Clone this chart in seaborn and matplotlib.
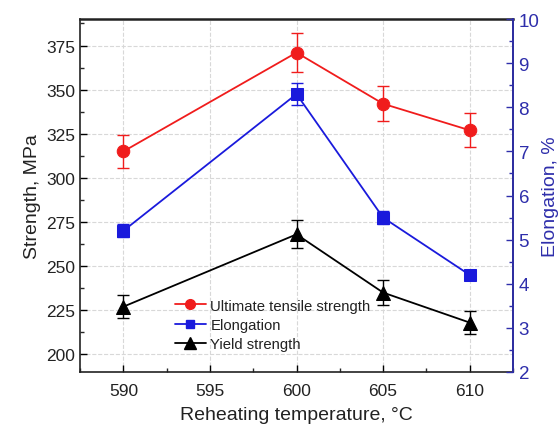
import numpy as np
import pandas as pd
import matplotlib
matplotlib.use("Agg")
import matplotlib.pyplot as plt
from matplotlib.lines import Line2D
from matplotlib.ticker import MultipleLocator
import seaborn as sns

# Data
temps = [590, 600, 605, 610]
uts = [315, 371, 342, 327]
uts_err = [9.5, 11, 10, 9.5]
elong = [5.2, 8.3, 5.5, 4.2]
elong_err = [0.15, 0.25, 0.15, 0.1]
ys = [227, 268, 235, 218]
ys_err = [6.5, 8, 7, 6.5]

labels = ["Ultimate tensile strength", "Elongation", "Yield strength"]

sns.set_theme(style="white")
plt.rcParams["font.family"] = ["Liberation Sans", "DejaVu Sans"]

RED = "#f01c1c"
BLUE = "#1a1adc"
AXBLUE = "#2e2eab"

fig = plt.figure(figsize=(5.6, 4.27), dpi=100)
ax = fig.add_axes([0.143, 0.1265, 0.773, 0.8265])
ax2 = ax.twinx()

df = pd.DataFrame({"temp": temps, "uts": uts, "ys": ys, "elong": elong})

# left axis: strengths
sns.lineplot(data=df, x="temp", y="uts", ax=ax, color=RED, marker="o",
             markersize=9, markeredgecolor=RED, linewidth=1.3)
ax.errorbar(temps, uts, yerr=uts_err, fmt="none", ecolor=RED, capsize=4, elinewidth=1)
sns.lineplot(data=df, x="temp", y="ys", ax=ax, color="black", marker="^",
             markersize=10, markeredgecolor="black", linewidth=1.3)
ax.errorbar(temps, ys, yerr=ys_err, fmt="none", ecolor="black", capsize=4, elinewidth=1)

# right axis: elongation
sns.lineplot(data=df, x="temp", y="elong", ax=ax2, color=BLUE, marker="s",
             markersize=8, markeredgecolor=BLUE, linewidth=1.3)
ax2.errorbar(temps, elong, yerr=elong_err, fmt="none", ecolor=BLUE, capsize=4, elinewidth=1)

ax.set_xlim(587.5, 612.5)
ax.set_ylim(190, 390)
ax2.set_ylim(2, 10)

ax.xaxis.set_major_locator(MultipleLocator(5))
ax.xaxis.set_minor_locator(MultipleLocator(2.5))
ax.yaxis.set_major_locator(MultipleLocator(25))
ax.yaxis.set_minor_locator(MultipleLocator(12.5))
ax2.yaxis.set_major_locator(MultipleLocator(1))
ax2.yaxis.set_minor_locator(MultipleLocator(0.5))

ax.grid(True, which="major", color="#d8d8d8", linestyle="--", linewidth=0.8)
ax.set_axisbelow(True)

ax.tick_params(axis="both", which="major", direction="in", length=5, width=1,
               labelsize=12.5, color="black", labelcolor="#222222",
               bottom=True, left=True, top=False, right=False)
ax.tick_params(axis="x", which="major", pad=8)
ax.tick_params(axis="both", which="minor", direction="in", length=3, width=1,
               bottom=True, left=True, top=False, right=False)
ax2.tick_params(axis="y", which="major", direction="in", length=5, width=1,
                labelsize=13.5, color=AXBLUE, labelcolor=AXBLUE, right=True, pad=4)
ax2.tick_params(axis="y", which="minor", direction="in", length=3, width=1,
                color=AXBLUE, right=True)

for s in ["left", "bottom", "top"]:
    ax.spines[s].set_color("#222222")
    ax.spines[s].set_linewidth(1.2)
ax.spines["top"].set_linewidth(1.8)
ax2.spines["right"].set_color(AXBLUE)
ax2.spines["right"].set_linewidth(1.3)
for s in ["left", "bottom", "top"]:
    ax2.spines[s].set_visible(False)

ax.set_xlabel("Reheating temperature, °C", fontsize=14, color="#222222", labelpad=6)
ax.set_ylabel("Strength, MPa", fontsize=14, color="#222222", labelpad=4)
ax2.set_ylabel("Elongation, %", fontsize=14, color=AXBLUE, labelpad=2)

handles = [
    Line2D([], [], color=RED, marker="o", markersize=7, linewidth=1.3),
    Line2D([], [], color=BLUE, marker="s", markersize=6, linewidth=1.3),
    Line2D([], [], color="black", marker="^", markersize=8, linewidth=1.3),
]
leg = ax.legend(handles, labels, loc="upper left", bbox_to_anchor=(0.205, 0.225),
                frameon=False, fontsize=10.7, handlelength=2.1, handletextpad=0.3,
                labelspacing=0.35, borderaxespad=0)
for t in leg.get_texts():
    t.set_color("#222222")

fig.savefig("out.png", dpi=100)
